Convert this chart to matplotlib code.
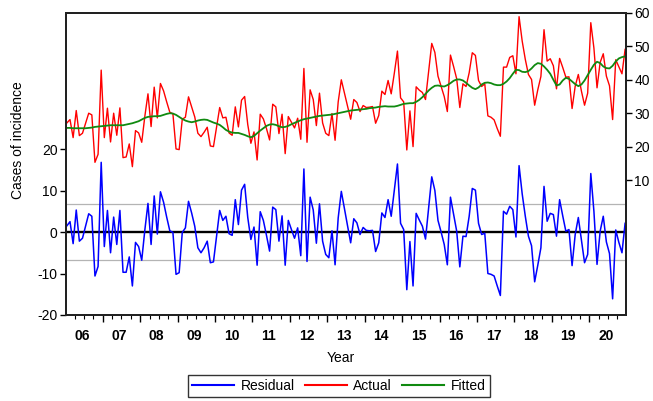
"""Residual / Actual / Fitted plot of monthly cases of incidence, 2006-2020."""

import numpy as np
import matplotlib

matplotlib.use("Agg")
import matplotlib.pyplot as plt
from matplotlib.lines import Line2D

plt.rcParams["font.family"] = ["Liberation Sans", "DejaVu Sans"]

YEAR_LABELS = ["06", "07", "08", "09", "10", "11", "12", "13",
               "14", "15", "16", "17", "18", "19", "20"]

# monthly residuals, Jan 2006 .. Dec 2020 (left axis)
RESIDUAL = [
    1.5, 2.5, -2.8, 5.3, -2.2, -1.5, 1.5, 4.4, 3.8, -10.6, -8.3, 16.8,
    -3.5, 5.2, -5.0, 3.6, -3.0, 5.2, -9.7, -9.7, -6.0, -13.0, -2.5, -3.5,
    -6.8, 0.5, 6.9, -3.0, 8.7, -0.5, 9.7, 7.2, 3.6, 0.3, -0.1, -10.2,
    -9.8, -0.1, 1.0, 7.4, 4.6, 1.4, -3.8, -5.0, -3.8, -2.2, -7.4, -7.2,
    -1.0, 5.2, 2.8, 3.8, -0.4, -0.8, 7.8, 1.8, 10.1, 11.5, 3.5, -1.8,
    1.2, -8.0, 4.9, 2.8, -0.8, -4.6, 6.0, 5.4, -2.2, 3.9, -8.0, 2.8,
    0.6, -1.5, 1.0, -5.7, 15.2, -7.1, 8.4, 5.3, -2.7, 6.8, -2.2, -5.4,
    -6.2, 0.3, -7.9, 3.4, 9.8, 5.6, 1.5, -2.6, 3.2, 2.2, -0.6, 1.1,
    0.4, 0.3, 0.4, -4.7, -2.6, 4.6, 3.5, 7.8, 3.8, 10.0, 16.4, 2.1,
    0.6, -13.9, -2.3, -13.0, 4.5, 2.9, 1.4, -1.7, 5.8, 13.3, 10.0, 2.8,
    0.0, -3.0, -7.9, 8.4, 4.3, 0.2, -8.4, -1.0, -1.1, 3.8, 10.5, 10.1,
    2.1, -0.6, -0.3, -10.0, -10.2, -10.6, -13.0, -15.3, 5.0, 4.3, 6.2, 5.4,
    -1.2, 16.0, 9.2, 3.8, -1.0, -3.3, -12.0, -8.0, -3.8, 11.0, 2.6, 4.5,
    4.2, -1.0, 7.8, 3.9, 0.2, 0.6, -8.1, -0.6, 3.5, -2.0, -7.4, -5.4,
    14.1, 5.0, -7.8, 0.2, 3.8, -2.4, -5.2, -16.1, 0.5, -2.5, -5.0, 2.1,
]

# monthly fitted values (right axis)
FITTED = [
    25.6, 25.6, 25.5, 25.5, 25.5, 25.5, 25.5, 25.6, 25.7, 25.9, 26.0, 26.1,
    26.2, 26.3, 26.4, 26.4, 26.4, 26.4, 26.4, 26.6, 26.8, 27.0, 27.3, 27.6,
    28.1, 28.6, 28.9, 29.0, 29.1, 29.1, 29.2, 29.5, 29.8, 30.0, 29.9, 29.5,
    28.9, 28.3, 27.8, 27.5, 27.3, 27.5, 27.8, 28.0, 28.1, 28.0, 27.6, 27.2,
    26.9, 26.5, 25.8, 25.0, 24.5, 24.2, 24.1, 24.1, 23.8, 23.5, 23.1, 22.8,
    23.2, 24.0, 24.8, 25.5, 26.2, 26.6, 26.7, 26.5, 26.1, 25.8, 25.9, 26.2,
    26.7, 27.1, 27.5, 27.9, 28.2, 28.4, 28.6, 28.8, 29.0, 29.2, 29.3, 29.4,
    29.5, 29.6, 29.8, 30.0, 30.2, 30.4, 30.6, 30.8, 30.9, 31.0, 31.1, 31.2,
    31.3, 31.5, 31.6, 31.7, 31.9, 32.0, 32.1, 32.0, 32.0, 32.0, 32.2, 32.5,
    32.8, 32.9, 33.0, 33.0, 33.4, 34.0, 34.8, 35.8, 36.8, 37.6, 38.2, 38.3,
    38.1, 38.0, 38.4, 39.0, 39.7, 40.1, 40.1, 39.8, 39.1, 38.3, 37.6, 37.2,
    37.7, 38.6, 39.1, 39.2, 39.0, 38.6, 38.4, 38.4, 38.8, 39.5, 40.5, 41.8,
    43.0, 42.9, 42.4, 42.3, 42.6, 43.4, 44.4, 45.0, 44.8, 44.0, 43.0, 41.8,
    40.0, 38.3, 38.6, 39.8, 40.6, 40.3, 39.5, 38.7, 38.1, 38.6, 39.8, 41.4,
    43.0, 44.5, 45.4, 45.0, 44.0, 43.5, 43.4, 44.2, 45.5, 46.4, 46.8, 47.0,
]

RESID_SE = 6.8  # +/- 1 s.e. band drawn on the residual axis

LEFT_TICKS = [-20, -10, 0, 10, 20]
RIGHT_TICKS = [10, 20, 30, 40, 50, 60]

BLUE = "#0000ff"
RED = "#ff0000"
GREEN = "#108a10"


def main() -> None:
    residual = np.asarray(RESIDUAL, dtype=float)
    fitted = np.asarray(FITTED, dtype=float)
    actual = fitted + residual  # actual = fitted + residual
    months = np.arange(len(residual))

    fig = plt.figure(figsize=(6.53, 4.01), dpi=100)
    ax = fig.add_axes([0.101, 0.2145, 0.8577, 0.7531])
    ax2 = ax.twinx()

    ax.axhline(0, color="black", lw=1.7, zorder=2)
    for level in (RESID_SE, -RESID_SE):
        ax.axhline(level, color="#b4b4b4", lw=0.9, zorder=1)
    ax.plot(months, residual, color=BLUE, lw=1.1, zorder=3)

    ax2.plot(months, actual, color=RED, lw=1.0)
    ax2.plot(months, fitted, color=GREEN, lw=1.3)

    ax.set_xlim(-0.3, len(months) - 0.7)
    ax.set_ylim(-20, 52.8)
    ax2.set_ylim(-30.4, 60)

    ax.set_yticks(LEFT_TICKS)
    ax.set_yticklabels([str(t) for t in LEFT_TICKS])
    ax2.set_yticks(RIGHT_TICKS)
    ax2.set_yticklabels([str(t) for t in RIGHT_TICKS])

    n_years = len(YEAR_LABELS)
    ax.set_xticks([12 * k - 0.5 for k in range(1, n_years)])
    ax.set_xticklabels([])
    ax.set_xticks([3 * q - 0.5 for q in range(1, 4 * n_years) if q % 4], minor=True)
    ax.tick_params(axis="x", which="major", direction="out", length=5, width=1.0)
    ax.tick_params(axis="x", which="minor", direction="out", length=3, width=0.8)
    ax.tick_params(axis="y", direction="out", length=4, width=1.0, labelsize=10, pad=2)
    ax2.tick_params(axis="y", direction="out", length=4, width=1.0, labelsize=10, pad=2)

    for k, label in enumerate(YEAR_LABELS):
        ax.text(12 * k + 4.8, -0.07, label, transform=ax.get_xaxis_transform(),
                ha="center", va="center", fontsize=10, fontweight="bold")

    for axis in (ax, ax2):
        for spine in axis.spines.values():
            spine.set_linewidth(1.4)
            spine.set_color("#222222")

    fig.text(0.522, 0.107, "Year", ha="center", va="center", fontsize=10)
    fig.text(0.028, 0.651, "Cases of incidence", rotation=90,
             ha="center", va="center", fontsize=10)

    handles = [Line2D([], [], color=c, lw=1.5) for c in (BLUE, RED, GREEN)]
    fig.legend(handles, ["Residual", "Actual", "Fitted"], loc="center",
               bbox_to_anchor=(0.519, 0.0374), ncol=3, frameon=True,
               fancybox=False, edgecolor="black", fontsize=10,
               handlelength=3.0, handletextpad=0.5, columnspacing=0.7,
               borderpad=0.3)

    fig.savefig("out.png", dpi=100)
    plt.close(fig)


if __name__ == "__main__":
    main()
